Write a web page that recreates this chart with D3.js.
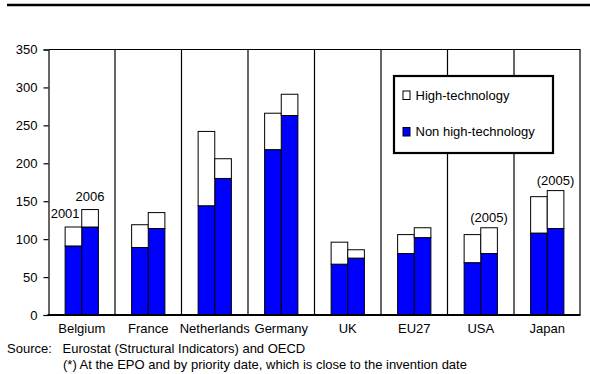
<!DOCTYPE html>
<html>
<head>
<meta charset="utf-8">
<script src="https://cdn.jsdelivr.net/npm/d3@7"></script>
<style>
  html, body { margin: 0; padding: 0; background: #fff; }
  svg { display: block; }
  text { font-family: "Liberation Sans", Arial, Helvetica, sans-serif; fill: #000; }
</style>
</head>
<body>
<svg id="chart" width="590" height="374"></svg>
<script>
// Patent applications per million inhabitants (*), 2001 and 2006
const categories = ["Belgium", "France", "Netherlands", "Germany", "UK", "EU27", "USA", "Japan"];
const years = ["2001", "2006"];
const nonHighTech2001 = [91, 89, 144, 218, 67, 81, 69, 108];
const highTech2001    = [25, 30, 98, 48, 29, 25, 37, 48];
const nonHighTech2006 = [116, 114, 180, 263, 75, 102, 81, 114];
const highTech2006    = [23, 21, 26, 28, 11, 13, 34, 50];
const yTicks = [0, 50, 100, 150, 200, 250, 300, 350];
const seriesNames = ["High-technology", "Non high-technology"];
const seriesColors = ["#ffffff", "#0000ff"];
// Notes placed above individual bars: [category, year, text, anchor]
const barNotes = [
  ["Belgium", "2001", "2001", "left"],
  ["Belgium", "2006", "2006", "middle"],
  ["USA", "2006", "(2005)", "middle"],
  ["Japan", "2006", "(2005)", "middle"]
];

const svg = d3.select("#chart");
const font = 13;

const x = d3.scaleBand().domain(categories).range([48.5, 580.5]);
const y = d3.scaleLinear().domain([0, 350]).range([315, 49.5]);
const bw = x.bandwidth();
const barX = (c, yr) => x(c) + bw * 0.25 + years.indexOf(yr) * bw * 0.25;
const barW = bw * 0.25;

// stacked rows: one per category/year
const rows = [];
categories.forEach((c, i) => {
  rows.push({ c, yr: "2001", non: nonHighTech2001[i], ht: highTech2001[i] });
  rows.push({ c, yr: "2006", non: nonHighTech2006[i], ht: highTech2006[i] });
});

// top rule
svg.append("line").attr("x1", 7).attr("x2", 590).attr("y1", 5).attr("y2", 5)
  .attr("stroke", "#000").attr("stroke-width", 2.5);

// plot frame: top border, category separators, right border
svg.append("line").attr("x1", x.range()[0]).attr("x2", x.range()[1])
  .attr("y1", y(350)).attr("y2", y(350)).attr("stroke", "#000").attr("stroke-width", 1.2);
svg.append("g").selectAll("line")
  .data(categories.slice(1).map(c => x(c)).concat([x.range()[1] - 0.5]))
  .join("line")
  .attr("x1", d => d).attr("x2", d => d)
  .attr("y1", y(350)).attr("y2", y(0))
  .attr("stroke", "#000").attr("stroke-width", 1.2);

// bars: non high-tech (blue) below, high-tech (white) on top
const g = svg.append("g");
g.selectAll("rect.non").data(rows).join("rect").attr("class", "non")
  .attr("x", d => barX(d.c, d.yr)).attr("width", barW)
  .attr("y", d => y(d.non)).attr("height", d => y(0) - y(d.non))
  .attr("fill", seriesColors[1]).attr("stroke", "#000").attr("stroke-width", 1);
g.selectAll("rect.ht").data(rows).join("rect").attr("class", "ht")
  .attr("x", d => barX(d.c, d.yr)).attr("width", barW)
  .attr("y", d => y(d.non + d.ht)).attr("height", d => y(d.non) - y(d.non + d.ht))
  .attr("fill", seriesColors[0]).attr("stroke", "#000").attr("stroke-width", 1);

// y axis
const yAxis = svg.append("g").attr("transform", `translate(${x.range()[0]},0)`)
  .call(d3.axisLeft(y).tickValues(yTicks).tickSize(5).tickPadding(6).tickFormat(d3.format("d")));
yAxis.select(".domain").attr("stroke-width", 1.2);
yAxis.selectAll(".tick line").attr("stroke-width", 1.2);
yAxis.selectAll("text").style("font-size", font + "px")
  .style("font-family", '"Liberation Sans", Arial, sans-serif');

// x axis baseline and labels
svg.append("line").attr("x1", x.range()[0] - 1).attr("x2", x.range()[1])
  .attr("y1", y(0)).attr("y2", y(0)).attr("stroke", "#000").attr("stroke-width", 2.2);
svg.append("g").selectAll("text").data(categories).join("text")
  .attr("x", d => x(d) + bw / 2).attr("y", 333)
  .attr("text-anchor", "middle").style("font-size", font + "px").text(d => d);

// notes above bars
svg.append("g").selectAll("text").data(barNotes).join("text")
  .attr("x", d => d[3] === "left" ? barX(d[0], d[1]) : barX(d[0], d[1]) + barW / 2)
  .attr("y", d => {
    const r = rows.find(r => r.c === d[0] && r.yr === d[1]);
    return y(r.non + r.ht) - (d[0] === "Belgium" ? 9 : 5.5);
  })
  .attr("text-anchor", "middle").style("font-size", font + "px").text(d => d[2]);

// legend
const lg = svg.append("g").attr("transform", "translate(394,76)");
lg.append("rect").attr("width", 159).attr("height", 77)
  .attr("fill", "#fff").attr("stroke", "#000").attr("stroke-width", 2.2);
seriesNames.forEach((name, i) => {
  const yy = i === 0 ? 23.5 : 60;
  lg.append("rect").attr("x", 9).attr("y", yy - 8.5).attr("width", 7).attr("height", 8.5)
    .attr("fill", seriesColors[i]).attr("stroke", "#000").attr("stroke-width", 1);
  lg.append("text").attr("x", 21.5).attr("y", yy).style("font-size", font + "px").text(name);
});

// source notes
svg.append("text").attr("x", 7).attr("y", 353).style("font-size", font + "px").text("Source:");
svg.append("text").attr("x", 62.5).attr("y", 353).style("font-size", font + "px")
  .text("Eurostat (Structural Indicators) and OECD");
svg.append("text").attr("x", 63).attr("y", 368.5).style("font-size", font + "px")
  .text("(*) At the EPO and by priority date, which is close to the invention date");
</script>
</body>
</html>
